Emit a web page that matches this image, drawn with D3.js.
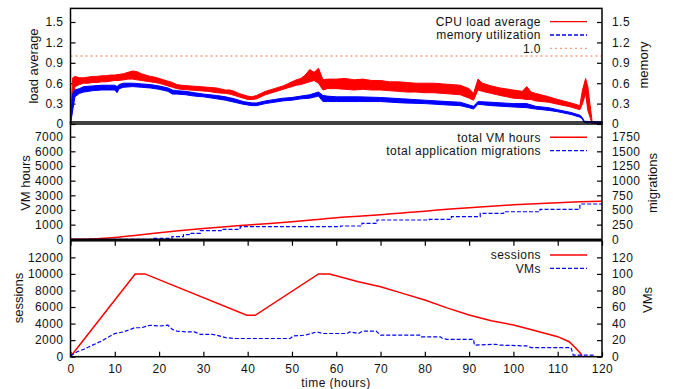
<!DOCTYPE html>
<html>
<head>
<meta charset="utf-8">
<script src="https://cdn.jsdelivr.net/npm/d3@7"></script>
<style>
  body { margin: 0; background: #fff; }
  text { font-family: "Liberation Sans", Arial, sans-serif; font-size: 13px; fill: #111; }
</style>
</head>
<body>
<svg width="675" height="389"></svg>
<script>
// [hour, low, high] of the noisy band
const cpuLoad = [
  [0, 0, 0.05], [0.5, 0.3, 0.68], [1, 0.55, 0.7], [2, 0.58, 0.68], [3, 0.6, 0.68], [4, 0.6, 0.69],
  [5, 0.61, 0.7], [6, 0.61, 0.7], [7, 0.62, 0.71], [8, 0.62, 0.71], [9, 0.63, 0.72], [10, 0.64, 0.72],
  [11, 0.64, 0.73], [12, 0.65, 0.74], [13, 0.66, 0.76], [14, 0.66, 0.78], [15, 0.65, 0.77], [16, 0.64, 0.74],
  [17, 0.63, 0.72], [18, 0.62, 0.7], [19, 0.61, 0.69], [20, 0.6, 0.67], [21, 0.58, 0.65], [22, 0.56, 0.63],
  [23, 0.54, 0.61], [24, 0.52, 0.58], [25, 0.51, 0.57], [27, 0.5, 0.56], [29, 0.49, 0.55], [31, 0.48, 0.54],
  [33, 0.46, 0.53], [35, 0.45, 0.5], [36, 0.44, 0.5], [37, 0.42, 0.48], [38, 0.4, 0.45], [39, 0.38, 0.43],
  [40, 0.36, 0.41], [41, 0.36, 0.4], [42, 0.37, 0.42], [43, 0.4, 0.45], [44, 0.43, 0.48], [45, 0.45, 0.5],
  [46, 0.47, 0.52], [47, 0.49, 0.54], [48, 0.51, 0.56], [49, 0.53, 0.59], [50, 0.55, 0.62], [51, 0.57, 0.65],
  [52, 0.58, 0.67], [53, 0.6, 0.72], [54, 0.62, 0.8], [55, 0.64, 0.76], [56, 0.6, 0.82], [57, 0.5, 0.65],
  [58, 0.52, 0.66], [60, 0.52, 0.66], [62, 0.51, 0.67], [64, 0.5, 0.65], [66, 0.51, 0.66], [68, 0.5, 0.64],
  [70, 0.5, 0.64], [72, 0.49, 0.62], [74, 0.48, 0.62], [76, 0.47, 0.61], [78, 0.47, 0.6], [80, 0.46, 0.6],
  [82, 0.46, 0.6], [84, 0.45, 0.59], [86, 0.44, 0.58], [88, 0.43, 0.57], [90, 0.38, 0.52], [91, 0.35, 0.45],
  [92, 0.5, 0.66], [93, 0.48, 0.6], [95, 0.45, 0.56], [97, 0.42, 0.53], [100, 0.38, 0.5], [102, 0.37, 0.48],
  [103, 0.36, 0.55], [104, 0.36, 0.47], [105, 0.34, 0.45], [108, 0.32, 0.4], [110, 0.29, 0.36], [113, 0.25, 0.31],
  [115, 0.21, 0.27], [115.6, 0.3, 0.5], [116.3, 0.45, 0.67], [116.8, 0.2, 0.55], [117.8, 0, 0.02], [120, 0, 0.01]
];
const memUsage = [
  [0, 0, 0.05], [0.5, 0.2, 0.45], [1, 0.4, 0.5], [2, 0.45, 0.52], [3, 0.47, 0.55], [5, 0.49, 0.56],
  [7, 0.5, 0.57], [9, 0.5, 0.57], [10, 0.5, 0.57], [10.5, 0.46, 0.55], [11, 0.52, 0.58], [12, 0.54, 0.6],
  [14, 0.55, 0.6], [16, 0.54, 0.59], [18, 0.53, 0.58], [20, 0.51, 0.56], [22, 0.48, 0.53], [23, 0.44, 0.5],
  [24, 0.44, 0.49], [26, 0.43, 0.48], [28, 0.41, 0.46], [30, 0.4, 0.44], [33, 0.37, 0.42], [35, 0.35, 0.4],
  [37, 0.32, 0.37], [39, 0.29, 0.33], [41, 0.27, 0.31], [42, 0.27, 0.31], [44, 0.3, 0.34], [46, 0.32, 0.36],
  [48, 0.34, 0.38], [50, 0.35, 0.39], [52, 0.37, 0.41], [54, 0.38, 0.43], [56, 0.41, 0.47], [57, 0.33, 0.42],
  [58, 0.33, 0.41], [60, 0.33, 0.4], [65, 0.33, 0.4], [70, 0.33, 0.39], [75, 0.31, 0.37], [80, 0.3, 0.35],
  [85, 0.28, 0.33], [88, 0.27, 0.32], [90, 0.24, 0.28], [91, 0.22, 0.26], [92, 0.29, 0.33], [95, 0.27, 0.32],
  [100, 0.25, 0.3], [103, 0.24, 0.3], [105, 0.22, 0.26], [108, 0.2, 0.24], [110, 0.18, 0.21], [113, 0.14, 0.17],
  [115, 0.1, 0.13], [115.5, 0.08, 0.1], [116, 0.02, 0.04], [120, 0.01, 0.03]
];
const vmHours = [
  [0, 0], [3, 10], [6, 40], [10, 130], [15, 280], [20, 440], [25, 600], [30, 740], [35, 860], [40, 970],
  [45, 1080], [50, 1200], [55, 1330], [60, 1470], [65, 1570], [70, 1680], [75, 1800], [80, 1920], [85, 2050],
  [90, 2160], [95, 2260], [100, 2350], [105, 2430], [110, 2500], [115, 2560], [120, 2600]
];
const migrations = [
  [0, 0], [18.8, 17], [22.9, 44], [25.5, 80], [27, 102], [29.3, 147], [34, 170], [38.3, 215], [61, 227],
  [65.8, 272], [69.2, 329], [81, 340], [86, 385], [92.5, 443], [97.8, 470], [106, 511], [115, 602], [120, 602]
];
const sessions = [
  [0, 0], [14.6, 10000], [16.8, 10000], [39.8, 5000], [41.7, 5000], [56, 10000], [58.5, 10000], [65, 9050],
  [70, 8450], [75, 7650], [80, 6840], [85, 5900], [90, 5030], [95, 4350], [100, 3830], [105, 3140],
  [110, 2420], [112.6, 1810], [114.1, 1010], [115.3, 300], [115.5, 0]
];
const vms = [
  [0, 1], [1.5, 6], [3, 9], [5, 14], [7, 19], [9, 25], [10, 28], [12, 30], [14.5, 35], [16, 35], [18, 38],
  [20, 37], [22, 38], [23, 33], [24, 31], [26, 30], [28, 30], [29.3, 27], [32, 27], [33, 26], [35, 23],
  [37, 22], [49.6, 22], [50.3, 25], [53, 26], [55.6, 30], [57, 28], [62.5, 28], [63, 30], [65, 28], [66, 31],
  [69, 31], [70, 26], [79, 26], [79.2, 24], [83.5, 24], [84, 22], [85, 21], [91, 21], [91.2, 14], [96, 15],
  [97, 14], [103, 13], [104, 11], [113, 11], [113.5, 2], [118, 2], [118.2, 0], [120, 0]
];
const overloadLine = 1.0;

const hourTicks = d3.range(0, 121, 10);
const loadTicks = [0, 0.3, 0.6, 0.9, 1.2, 1.5];
const vmHourTicks = d3.range(0, 7001, 1000);
const migrationTicks = d3.range(0, 1751, 250);
const sessionTicks = d3.range(0, 12001, 2000);
const vmTicks = d3.range(0, 121, 20);

const svg = d3.select('svg');
const x = d3.scaleLinear().domain([0, 120]).range([70.5, 602]);
const red = '#ff0000', blue = '#0000ff';

// gnuplot's font is wide but short, so a smaller size with spacing
function wide(sel) {
  return sel.style('font-size', '12px').style('letter-spacing', '0.45px');
}

function styleTicks(g) {
  g.selectAll('.domain').remove();
  g.selectAll('.tick line').attr('stroke', '#000').attr('stroke-width', 1.2);
  wide(g.selectAll('.tick text')).attr('fill', '#111');
}

function panel(id, top, bottom, leftMax, rightMax, leftTicks, rightTicks, fmt) {
  const yl = d3.scaleLinear().domain([0, leftMax]).range([bottom, top]);
  const yr = d3.scaleLinear().domain([0, rightMax]).range([bottom, top]);
  svg.append('clipPath').attr('id', id)
    .append('rect').attr('x', x(0)).attr('y', top).attr('width', x(120) - x(0)).attr('height', bottom - top);
  const g = svg.append('g');
  g.append('g').attr('transform', `translate(${x(0)},0)`)
    .call(d3.axisLeft(yl).tickValues(leftTicks).tickSize(-5).tickPadding(7).tickFormat(fmt));
  g.append('g').attr('transform', `translate(${x(120)},0)`)
    .call(d3.axisRight(yr).tickValues(rightTicks).tickSize(-5).tickPadding(10).tickFormat(fmt));
  styleTicks(g);
  const plot = svg.append('g').attr('clip-path', `url(#${id})`);
  return {yl, yr, g, plot, top, bottom};
}

function frame(p) {
  svg.append('rect').attr('x', x(0)).attr('y', p.top).attr('width', x(120) - x(0)).attr('height', p.bottom - p.top)
    .attr('fill', 'none').attr('stroke', '#000').attr('stroke-width', 1.5);
}

function legend(rows, y0) {
  rows.forEach((r, i) => {
    const y = y0 + i * 13.3;
    wide(svg.append('text')).attr('x', 541).attr('y', y).attr('dy', '0.35em').attr('text-anchor', 'end').text(r.label);
    svg.append('line').attr('x1', 550).attr('x2', 587).attr('y1', y).attr('y2', y)
      .attr('stroke', r.color).attr('stroke-width', r.width || 1.3).attr('stroke-dasharray', r.dash || null);
  });
}

function yTitle(label, cx, cy) {
  svg.append('text').attr('transform', `translate(${cx},${cy}) rotate(-90)`)
    .attr('text-anchor', 'middle').attr('dy', '0.35em').text(label);
}

// panel 1: load and memory
const p1 = panel('c1', 8.4, 124, 1.7, 1.7, loadTicks, loadTicks, d => d === 0 ? '0' : d3.format('.1f')(d));
const band = d3.area().x(d => x(d[0])).y0(d => p1.yl(d[1])).y1(d => p1.yl(d[2]));
p1.plot.append('path').attr('d', band(cpuLoad)).attr('fill', red).attr('stroke', red).attr('stroke-width', 1);
p1.plot.append('path').attr('d', band(memUsage)).attr('fill', blue).attr('stroke', blue).attr('stroke-width', 1);
p1.plot.append('line').attr('x1', x(0)).attr('x2', x(120)).attr('y1', p1.yl(overloadLine)).attr('y2', p1.yl(overloadLine))
  .attr('stroke', '#f4a080').attr('stroke-width', 1.3).attr('stroke-dasharray', '2,3');
frame(p1);
legend([
  {label: 'CPU load average', color: red},
  {label: 'memory utilization', color: blue, dash: '4,2'},
  {label: '1.0', color: '#f4a080', dash: '2,3'}
], 21.7);
yTitle('load average', 33, 66);
yTitle('memory', 643, 65);

// panel 2: VM hours and migrations
const p2 = panel('c2', 122, 239.3, 8000, 2000, vmHourTicks, migrationTicks, d => d);
p2.plot.append('path').datum(vmHours)
  .attr('d', d3.line().x(d => x(d[0])).y(d => p2.yl(d[1])).curve(d3.curveMonotoneX))
  .attr('fill', 'none').attr('stroke', red).attr('stroke-width', 1.5);
p2.plot.append('path').datum(migrations)
  .attr('d', d3.line().x(d => x(d[0])).y(d => p2.yr(d[1])).curve(d3.curveStepAfter))
  .attr('fill', 'none').attr('stroke', blue).attr('stroke-width', 1.2).attr('stroke-dasharray', '4,2');
frame(p2);
legend([
  {label: 'total VM hours', color: red, width: 1.5},
  {label: 'total application migrations', color: blue, dash: '4,2'}
], 137.3);
yTitle('VM hours', 25, 183);
yTitle('migrations', 652, 183);

// panel 3: sessions and VMs
const p3 = panel('c3', 240.8, 356.7, 14000, 140, sessionTicks, vmTicks, d => d);
p3.plot.append('path').datum(sessions)
  .attr('d', d3.line().x(d => x(d[0])).y(d => p3.yl(d[1])))
  .attr('fill', 'none').attr('stroke', red).attr('stroke-width', 1.5);
p3.plot.append('path').datum(vms)
  .attr('d', d3.line().x(d => x(d[0])).y(d => p3.yr(d[1])))
  .attr('fill', 'none').attr('stroke', blue).attr('stroke-width', 1.2).attr('stroke-dasharray', '4,2');
const xa = svg.append('g');
xa.append('g').attr('transform', `translate(0,${p3.bottom})`)
  .call(d3.axisBottom(x).tickValues(hourTicks).tickSize(-5).tickPadding(8));
xa.append('g').attr('transform', `translate(0,${p3.top})`)
  .call(d3.axisTop(x).tickValues(hourTicks).tickSize(-5).tickFormat(''));
styleTicks(xa);
frame(p3);
legend([
  {label: 'sessions', color: red, width: 1.5},
  {label: 'VMs', color: blue, dash: '4,2'}
], 255);
yTitle('sessions', 18, 298);
yTitle('VMs', 647, 300);
wide(svg.append('text')).attr('x', 336).attr('y', 386.5).attr('text-anchor', 'middle').text('time (hours)');
</script>
</body>
</html>
